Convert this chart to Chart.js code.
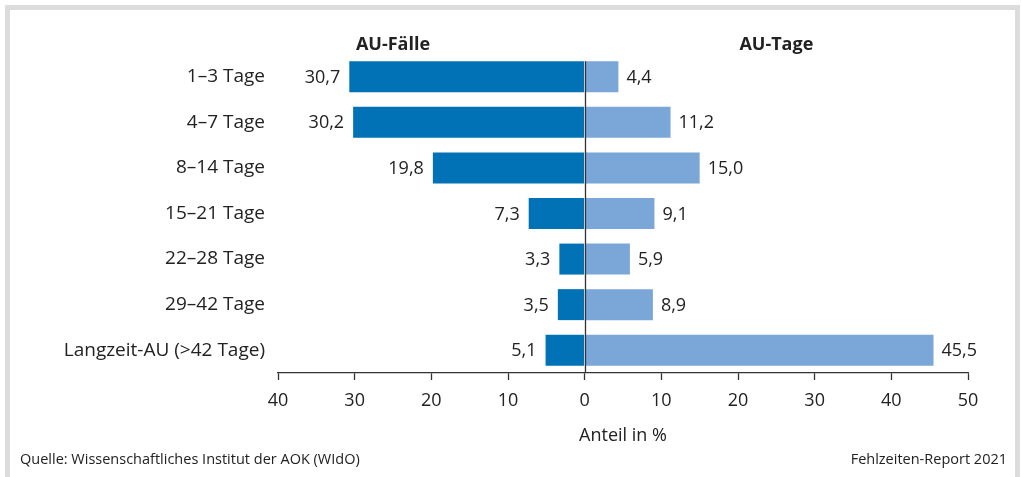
<!DOCTYPE html>
<html>
<head>
<meta charset="utf-8">
<script src="https://cdn.jsdelivr.net/npm/chart.js@4"></script>
<style>
  html, body { margin: 0; padding: 0; background: #ffffff; }
  canvas { display: block; }
</style>
</head>
<body>
<canvas id="c" width="1022" height="477"></canvas>
<script>
const categories = ["1–3 Tage", "4–7 Tage", "8–14 Tage", "15–21 Tage", "22–28 Tage", "29–42 Tage", "Langzeit-AU (>42 Tage)"];
const auFaelle = [30.7, 30.2, 19.8, 7.3, 3.3, 3.5, 5.1];
const auTage = [4.4, 11.2, 15.0, 9.1, 5.9, 8.9, 45.5];
const seriesNames = ["AU-Fälle", "AU-Tage"];
const axisTitle = "Anteil in %";
const sourceText = "Quelle: Wissenschaftliches Institut der AOK (WIdO)";
const reportText = "Fehlzeiten-Report 2021";

const FONT = "'Open Sans', 'Noto Sans', sans-serif";
const TXT = "#222222";
const fmt = v => Math.abs(v).toFixed(1).replace('.', ',');

const overlay = {
  id: 'overlay',
  beforeDraw(chart) {
    const ctx = chart.ctx;
    ctx.save();
    ctx.strokeStyle = '#dcdcdc';
    ctx.lineWidth = 5;
    ctx.strokeRect(7.5, 7.5, 1010, 600);
    ctx.restore();
  },
  afterDatasetsDraw(chart) {
    const ctx = chart.ctx;
    const xs = chart.scales.x;
    const area = chart.chartArea;
    ctx.save();
    ctx.font = "18px " + FONT;
    ctx.fillStyle = TXT;
    ctx.textBaseline = 'middle';
    chart.data.datasets.forEach((ds, di) => {
      const meta = chart.getDatasetMeta(di);
      meta.data.forEach((el, i) => {
        const v = ds.data[i];
        if (v < 0) {
          ctx.textAlign = 'right';
          ctx.fillText(fmt(v), el.x - 9, el.y + 1);
        } else {
          ctx.textAlign = 'left';
          ctx.fillText(fmt(v), el.x + 8, el.y + 1);
        }
      });
    });
    // zero line
    const first = chart.getDatasetMeta(0).data[0];
    const x0 = Math.round(xs.getPixelForValue(0)) + 0.5;
    ctx.strokeStyle = '#333333';
    ctx.lineWidth = 1.3;
    ctx.beginPath();
    ctx.moveTo(x0, first.y - first.height / 2);
    ctx.lineTo(x0, area.bottom);
    ctx.stroke();
    // headers
    ctx.font = "bold 18px " + FONT;
    ctx.textAlign = 'center';
    ctx.fillText(seriesNames[0], xs.getPixelForValue(-25), 45);
    ctx.fillText(seriesNames[1], xs.getPixelForValue(25), 45);
    // axis title
    ctx.font = "18px " + FONT;
    ctx.fillText(axisTitle, (area.left + area.right) / 2, 436);
    // footer
    ctx.font = "14.5px " + FONT;
    ctx.textAlign = 'left';
    ctx.fillText(sourceText, 20, 460);
    ctx.textAlign = 'right';
    ctx.fillText(reportText, 1007, 460);
    ctx.restore();
  }
};

new Chart(document.getElementById('c'), {
  type: 'bar',
  data: {
    labels: categories,
    datasets: [
      { label: seriesNames[0], data: auFaelle.map(v => -v), backgroundColor: '#0072b5', borderWidth: 0 },
      { label: seriesNames[1], data: auTage, backgroundColor: '#7ba6d8', borderWidth: 0 }
    ]
  },
  options: {
    indexAxis: 'y',
    responsive: false,
    animation: false,
    devicePixelRatio: 1,
    layout: { padding: { top: 54, right: 54, bottom: 64, left: 0 } },
    datasets: { bar: { categoryPercentage: 1, barPercentage: 0.68 } },
    plugins: { legend: { display: false }, tooltip: { enabled: false } },
    scales: {
      x: {
        stacked: true,
        min: -40, max: 50,
        ticks: {
          stepSize: 10,
          color: TXT,
          font: { family: FONT, size: 18 },
          padding: 10,
          callback: v => String(Math.abs(v))
        },
        grid: { drawOnChartArea: false, drawTicks: true, tickLength: 7, tickColor: '#333333', tickWidth: 1.3 },
        border: { display: true, color: '#333333', width: 1.3 },
        afterFit: s => { s.height = 40; }
      },
      y: {
        stacked: true,
        ticks: { color: TXT, font: { family: FONT, size: 19 }, padding: 13 },
        grid: { display: false, drawTicks: false },
        border: { display: false },
        afterFit: s => { s.width = 278; }
      }
    }
  },
  plugins: [overlay]
});
</script>
</body>
</html>
